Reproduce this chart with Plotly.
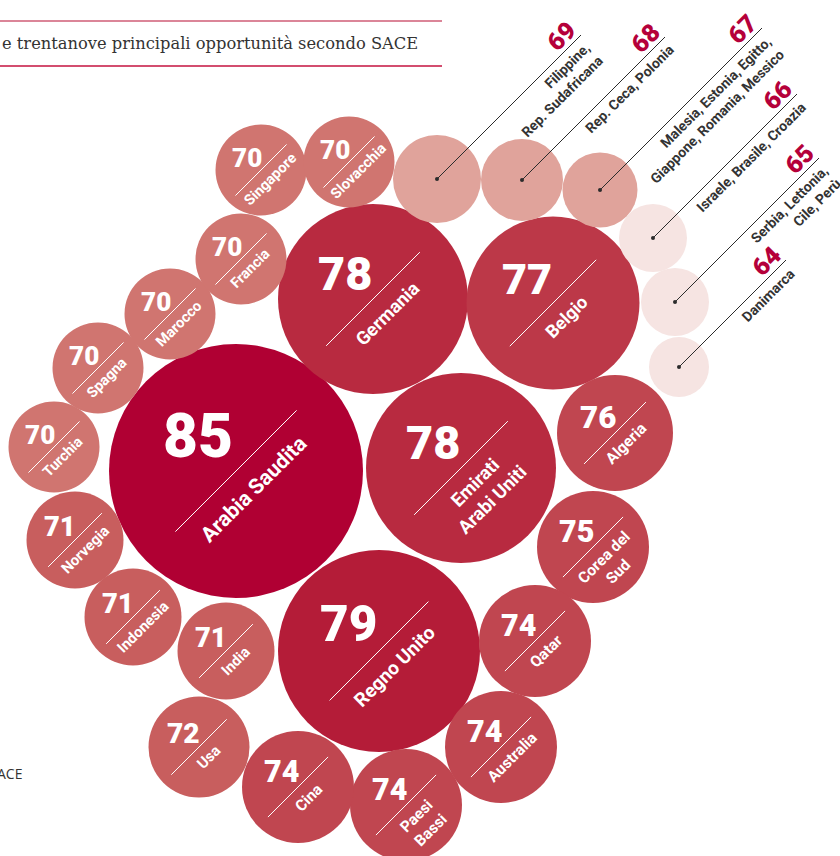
import numpy as np
import plotly.graph_objects as go

# ---------------------------------------------------------------- data
countries = ["Arabia Saudita", "Regno Unito", "Germania", "Emirati<br>Arabi Uniti",
             "Belgio", "Algeria", "Corea del<br>Sud", "Qatar", "Australia",
             "Paesi<br>Bassi", "Cina", "Usa", "India", "Indonesia", "Norvegia",
             "Turchia", "Spagna", "Marocco", "Francia", "Singapore", "Slovacchia"]
scores = [85, 79, 78, 78, 77, 76, 75, 74, 74, 74, 74, 72, 71, 71, 71,
          70, 70, 70, 70, 70, 70]

group_labels = ["Filippine,<br>Rep. Sudafricana",
                "Rep. Ceca, Polonia",
                "Malesia, Estonia, Egitto,<br>Giappone, Romania, Messico",
                "Israele, Brasile, Croazia",
                "Serbia, Lettonia,<br>Cile, Perù",
                "Danimarca"]
group_scores = [69, 68, 67, 66, 65, 64]

title_text = "e trentanove principali opportunità secondo SACE"
source_text = "ACE"

# ------------------------------------------------------- packed layout
# bubble centres in page pixels (x right, y down)
country_xy = [(236, 471), (379, 651), (373, 299), (461, 468), (553, 303),
              (615, 433), (593, 547), (535, 641), (501, 747), (406, 805),
              (298, 787), (199, 747), (226, 651), (133, 617), (75, 540),
              (54, 447), (98, 368), (170, 314), (241, 259), (261, 170),
              (349, 162)]
group_xy = [(437, 179), (522, 180), (600, 190), (653, 238), (675, 302), (679, 367)]
leader_len = [144, 143, 162, 144, 144, 107]

# score -> bubble radius (px) and fill colour
RADIUS = {85: 127, 79: 101, 78: 95, 77: 86.5, 76: 58, 75: 56, 74: 56,
          72: 50.5, 71: 48.5, 70: 45.5, 69: 44, 68: 41, 67: 37.5,
          66: 34, 65: 34, 64: 30}
FILL = {85: "#B00033", 79: "#B41C38", 78: "#B82A40", 77: "#BC3848",
        76: "#C04650", 75: "#C04650", 74: "#C04650",
        72: "#C85E5E", 71: "#C85E5E", 70: "#D07570",
        69: "#E0A39B", 68: "#E0A39B", 67: "#E0A39B",
        66: "#F6E4E2", 65: "#F6E4E2", 64: "#F6E4E2"}

W, H = 840, 856
SANS = "Roboto"
CRIMSON = "#B5003A"
INK = "#2b2b2b"

# approximate advance widths (em) for bold sans text
ADV = {" ": .25, ",": .22, ".": .27, "A": .66, "B": .63, "C": .65, "E": .57,
       "F": .56, "G": .68, "I": .28, "M": .87, "P": .64, "R": .62, "S": .60,
       "a": .54, "b": .56, "c": .52, "d": .56, "e": .53, "f": .35, "g": .56,
       "h": .55, "i": .25, "l": .25, "m": .87, "n": .55, "o": .57, "p": .56,
       "r": .35, "s": .51, "t": .33, "u": .55, "ù": .55, "v": .49, "z": .49}


def text_width(s, size):
    return sum(ADV.get(ch, .55) for ch in s) * size


SQ = np.sqrt(0.5)
ALONG = np.array([SQ, -SQ])   # up-right, the reading direction of rotated text
PERP = np.array([SQ, SQ])     # down-right, below the reading direction

fig = go.Figure()
shapes, annotations = [], []

# bubbles
all_xy = country_xy + group_xy
all_scores = scores + group_scores
fig.add_trace(go.Scatter(
    x=[p[0] for p in all_xy], y=[p[1] for p in all_xy], mode="markers",
    marker=dict(size=[2 * RADIUS[s] for s in all_scores], sizemode="diameter",
                color=[FILL[s] for s in all_scores], opacity=1,
                line=dict(width=0)),
    hoverinfo="skip", showlegend=False))

# labels inside the country bubbles
for name, score, (cx, cy) in zip(countries, scores, country_xy):
    r = RADIUS[score]
    c = np.array([cx, cy], float)
    h = 0.43 * r + 6
    shapes.append(dict(type="line", xref="x", yref="y",
                       x0=cx - h, y0=cy + h, x1=cx + h, y1=cy - h,
                       line=dict(color="white", width=1)))
    num_fs = 0.42 * r + 7
    annotations.append(dict(x=cx - 0.30 * r, y=cy - 0.27 * r, text=str(score),
                            showarrow=False, xanchor="center", yanchor="middle",
                            font=dict(family=SANS, size=num_fs, color="white",
                                      weight=900)))
    lab_fs = 0.08 * r + 11
    n = len(name.split("<br>"))
    p = 0.1 * r + 0.6 * lab_fs + (n - 1) * 0.65 * lab_fs
    pos = c + p * PERP
    annotations.append(dict(x=pos[0], y=pos[1], text=name, textangle=-45,
                            showarrow=False, xanchor="center", yanchor="middle",
                            align="center",
                            font=dict(family=SANS, size=lab_fs, color="white",
                                      weight="bold")))

# leader lines and labels for the grouped scores
OUT_FS = 14
for name, score, (cx, cy), L in zip(group_labels, group_scores, group_xy, leader_len):
    d = np.array([cx, cy], float)
    e = np.array([cx + L, cy - L], float)
    shapes.append(dict(type="line", xref="x", yref="y",
                       x0=cx, y0=cy, x1=e[0], y1=e[1],
                       line=dict(color=INK, width=1)))
    num_pos = e - 15 * ALONG - 13 * PERP
    annotations.append(dict(x=num_pos[0], y=num_pos[1], text=str(score),
                            textangle=-45, showarrow=False,
                            xanchor="center", yanchor="middle",
                            font=dict(family=SANS, size=25, color=CRIMSON,
                                      weight=900)))
    lines = name.split("<br>")
    wmax = max(text_width(t, OUT_FS) for t in lines)
    along = L * np.sqrt(2) - 4 - wmax / 2
    perp = 12 + (len(lines) - 1) * 1.3 * OUT_FS / 2
    pos = d + along * ALONG + perp * PERP
    annotations.append(dict(x=pos[0], y=pos[1], text=name, textangle=-45,
                            showarrow=False, xanchor="center", yanchor="middle",
                            align="right",
                            font=dict(family=SANS, size=OUT_FS, color="#333333",
                                      weight="bold")))

fig.add_trace(go.Scatter(
    x=[p[0] for p in group_xy], y=[p[1] for p in group_xy], mode="markers",
    marker=dict(size=4, color=INK), hoverinfo="skip", showlegend=False))

# header rules and title
shapes.append(dict(type="line", xref="x", yref="y", x0=0, x1=442, y0=21, y1=21,
                   line=dict(color="#CF5C76", width=1.5)))
shapes.append(dict(type="line", xref="x", yref="y", x0=0, x1=442, y0=66, y1=66,
                   line=dict(color="#C5123F", width=1.5)))
annotations.append(dict(x=0, y=43, text=title_text, showarrow=False,
                        xanchor="left", yanchor="middle",
                        font=dict(family="DejaVu Serif", size=16.3, color="#333")))
annotations.append(dict(x=24, y=773, text=source_text, showarrow=False,
                        xanchor="right", yanchor="middle",
                        font=dict(family="Open Sans", size=14, color="#333")))

fig.update_layout(
    width=W, height=H, margin=dict(l=0, r=0, t=0, b=0),
    paper_bgcolor="white", plot_bgcolor="white",
    xaxis=dict(range=[0, W], visible=False, fixedrange=True),
    yaxis=dict(range=[H, 0], visible=False, fixedrange=True),
    shapes=shapes, annotations=annotations, showlegend=False,
)

fig.write_html("out.html", config={"displayModeBar": False})
